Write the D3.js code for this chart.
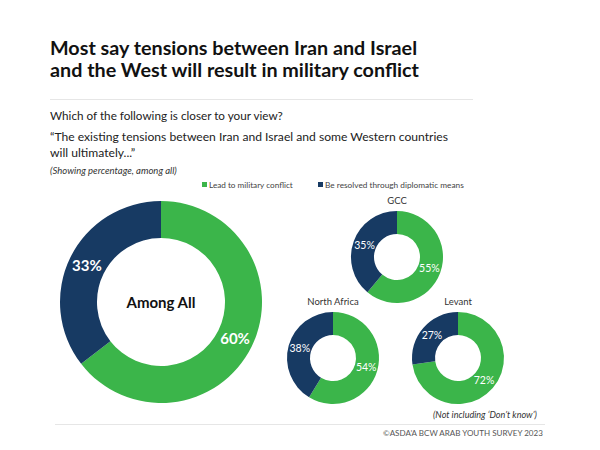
<!DOCTYPE html>
<html>
<head>
<meta charset="utf-8">
<script src="https://cdn.jsdelivr.net/npm/d3@7"></script>
<style>
  html, body { margin: 0; padding: 0; background: #fff; }
  svg { display: block; }
  text { font-family: Lato, "Open Sans", sans-serif; }
</style>
</head>
<body>
<svg id="chart" width="600" height="450"></svg>
<script>
// ---- data ----
const regions = ["Among All", "GCC", "North Africa", "Levant"];
const militaryConflict = [60, 55, 54, 72];
const diplomaticMeans = [33, 35, 38, 27];
const seriesNames = ["Lead to military conflict", "Be resolved through diplomatic means"];

// ---- styling / layout ----
const colors = ["#3bb54a", "#173a63"];
const layout = [
  { cx: 161, cy: 302, r: 101, ir: 64, main: true },
  { cx: 397, cy: 257, r: 46, ir: 23 },
  { cx: 333, cy: 358, r: 46, ir: 23 },
  { cx: 458, cy: 358, r: 46, ir: 23 }
];

const svg = d3.select("#chart");

function fitText(sel, target) {
  const node = sel.node();
  const w = node.getComputedTextLength();
  const fs = parseFloat(sel.attr("font-size"));
  sel.attr("font-size", (fs * target / w).toFixed(2));
}

// Title
const t1 = svg.append("text").attr("x", 50).attr("y", 55).attr("font-size", 19)
  .attr("font-weight", 700).attr("fill", "#111").text("Most say tensions between Iran and Israel");
fitText(t1, 367);
const t2 = svg.append("text").attr("x", 50).attr("y", 77).attr("font-size", t1.attr("font-size"))
  .attr("font-weight", 700).attr("fill", "#111").text("and the West will result in military conflict");

svg.append("line").attr("x1", 50).attr("x2", 473).attr("y1", 99.5).attr("y2", 99.5)
  .attr("stroke", "#e6e6e6").attr("stroke-width", 1);

const s1 = svg.append("text").attr("x", 50).attr("y", 120).attr("font-size", 12)
  .attr("fill", "#222").text("Which of the following is closer to your view?");
fitText(s1, 233);
const q1 = svg.append("text").attr("x", 50).attr("y", 141).attr("font-size", s1.attr("font-size"))
  .attr("fill", "#222").text("\u201CThe existing tensions between Iran and Israel and some Western countries");
fitText(q1, 398);
svg.append("text").attr("x", 50).attr("y", 157).attr("font-size", q1.attr("font-size"))
  .attr("fill", "#222").text("will ultimately...\u201D");

const sh = svg.append("text").attr("x", 50).attr("y", 174).attr("font-size", 8)
  .attr("font-style", "italic").attr("fill", "#333").text("(Showing percentage, among all)");
fitText(sh, 127);

// Legend
const legendX = [202, 318];
const legendW = [84, 139];
seriesNames.forEach((n, i) => {
  svg.append("rect").attr("x", legendX[i]).attr("y", 182).attr("width", 5).attr("height", 5)
    .attr("fill", colors[i]);
  const lt = svg.append("text").attr("x", legendX[i] + 7).attr("y", 187.5).attr("font-size", 8)
    .attr("fill", "#444").text(n);
  fitText(lt, legendW[i]);
});

// Donuts
const pie = d3.pie().sort(null).value(d => d.v);
regions.forEach((name, i) => {
  const L = layout[i];
  const data = [{ v: militaryConflict[i], k: 0 }, { v: diplomaticMeans[i], k: 1 }];
  const arc = d3.arc().innerRadius(L.ir).outerRadius(L.r);
  const labelArc = d3.arc().innerRadius((L.ir + L.r) / 2).outerRadius((L.ir + L.r) / 2);
  const g = svg.append("g").attr("transform", `translate(${L.cx},${L.cy})`);
  const arcs = pie(data);
  g.selectAll("path").data(arcs).join("path")
    .attr("d", arc).attr("fill", d => colors[d.data.k]);
  g.selectAll("text.pct").data(arcs).join("text").attr("class", "pct")
    .attr("transform", d => `translate(${labelArc.centroid(d)})`)
    .attr("text-anchor", "middle").attr("dy", "0.35em")
    .attr("font-size", L.main ? 15 : 10.5)
    .attr("font-weight", L.main ? 700 : 400)
    .attr("fill", "#fff")
    .text(d => d.data.v + "%");
  if (L.main) {
    g.append("text").attr("text-anchor", "middle").attr("y", 6).attr("font-size", 15)
      .attr("font-weight", 700).attr("fill", "#111").text(name);
  } else {
    svg.append("text").attr("x", L.cx).attr("y", L.cy - L.r - 7).attr("text-anchor", "middle")
      .attr("font-size", 9.5).attr("fill", "#333").text(name);
  }
});

// Footer
const ni = svg.append("text").attr("x", 433).attr("y", 418).attr("font-size", 8)
  .attr("font-style", "italic").attr("fill", "#333").text("(Not including \u2018Don\u2019t know\u2019)");
fitText(ni, 104);
svg.append("line").attr("x1", 55).attr("x2", 545).attr("y1", 424.5).attr("y2", 424.5)
  .attr("stroke", "#e6e6e6").attr("stroke-width", 1);
const ft = svg.append("text").attr("x", 383).attr("y", 436).attr("font-size", 7)
  .attr("fill", "#555").text("\u00A9ASDA\u2019A BCW ARAB YOUTH SURVEY 2023");
fitText(ft, 160);
</script>
</body>
</html>
